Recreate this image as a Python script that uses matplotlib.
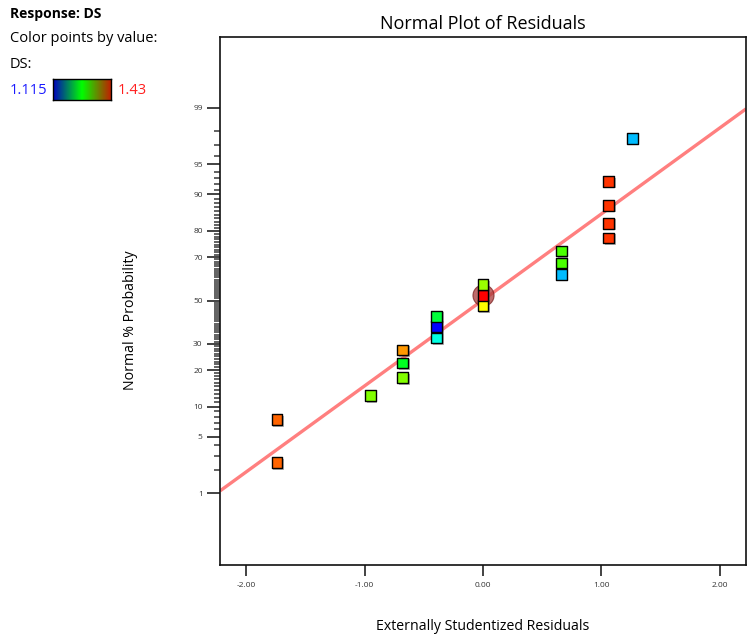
"""
Normal probability plot of externally studentized residuals, points coloured by DS.
"""

from statistics import NormalDist

import matplotlib
matplotlib.use('Agg')
import matplotlib.pyplot as plt
import matplotlib.patheffects as pe
from matplotlib.colors import LinearSegmentedColormap, Normalize
import numpy as np

plt.rcParams['font.family'] = ['Open Sans', 'DejaVu Sans']

# Residuals (sorted) and their normal % probability positions
residuals = [-1.738, -1.738, -0.951, -0.678, -0.678, -0.678, -0.391, -0.391, -0.391,
             0.0, 0.0, 0.0, 0.661, 0.661, 0.661, 1.061, 1.061, 1.061, 1.061, 1.26]
prob_pct = [2.5, 7.5, 12.5, 17.5, 22.5, 27.5, 32.5, 37.5, 42.5, 47.5,
            52.5, 57.5, 62.5, 67.5, 72.5, 77.5, 82.5, 87.5, 92.5, 97.5]
# DS response value of each run, used for point colour
ds_values = [1.399, 1.399, 1.312, 1.312, 1.262, 1.383, 1.203, 1.115, 1.255, 1.351,
             1.430, 1.320, 1.174, 1.295, 1.295, 1.414, 1.414, 1.414, 1.414, 1.174]
ds_min, ds_max = 1.115, 1.43

# Reference line through the residuals
fit_x = [-2.22, 2.22]
fit_pct = [1.07, 98.97]

# Highlighted run
hl_x, hl_pct = 0.0, 52.5

major_pct = [1, 5, 10, 20, 30, 50, 70, 80, 90, 95, 99]
x_ticks = [-2.0, -1.0, 0.0, 1.0, 2.0]

nd = NormalDist()


def to_z(pct):
    return np.array([nd.inv_cdf(p / 100.0) for p in np.atleast_1d(pct)])


W, H = 751, 644
fig = plt.figure(figsize=(W / 100, H / 100), dpi=100)
ax = fig.add_axes([220 / W, 1 - 565 / H, 526 / W, 528 / H])

# points use a hue sweep blue -> cyan -> green -> yellow -> red
point_cmap = LinearSegmentedColormap.from_list(
    'rainbow_ds', ['#0000ff', '#00ffff', '#00ff00', '#ffff00', '#ff0000'])
norm = Normalize(ds_min, ds_max)

ax.plot(fit_x, to_z(fit_pct), color='#ff7f7f', lw=2.4, zorder=2, solid_capstyle='butt')

ax.scatter([hl_x], to_z(hl_pct), s=230, color='#a83a3a', alpha=0.75,
           edgecolor='#7a2020', lw=0.8, zorder=3)

pts = ax.scatter(residuals, to_z(prob_pct), c=ds_values, cmap=point_cmap, norm=norm,
                 marker='s', s=60, edgecolor='black', lw=1.0, zorder=4)
pts.set_path_effects([pe.SimplePatchShadow(offset=(1.2, -1.2), shadow_rgbFace='#555555',
                                           alpha=0.45), pe.Normal()])

ax.set_xlim(-2.22, 2.22)
ax.set_ylim(-3.196, 3.184)

ax.set_xticks(x_ticks)
ax.set_xticklabels([f'{v:.2f}' for v in x_ticks])
ax.set_yticks(to_z(major_pct))
ax.set_yticklabels([str(p) for p in major_pct])

# one short tick per percent between the labelled ones
minor_pct = [p for p in range(1, 100) if p not in major_pct]
ax.hlines(to_z(minor_pct), -0.012, 0, transform=ax.get_yaxis_transform(),
          colors='#555555', lw=1.3, clip_on=False)

ax.tick_params(axis='both', which='major', labelsize=6, labelcolor='#333333',
               color='#222222', width=1.2)
ax.tick_params(axis='x', which='major', length=8, pad=4)
ax.tick_params(axis='y', which='major', length=9.5, pad=3)

for s in ax.spines.values():
    s.set_linewidth(1.2)
    s.set_color('#111111')

ax.set_title('Normal Plot of Residuals', fontsize=13, pad=6)
ax.set_xlabel('Externally Studentized Residuals', fontsize=10.2, labelpad=22)
fig.text(130 / W, 1 - 320 / H, 'Normal % Probability', fontsize=10.2,
         rotation=90, ha='center', va='center')

# colour key in the top-left corner
fig.text(10 / W, 1 - 14 / H, 'Response: DS', fontsize=10, fontweight='bold', va='center')
fig.text(10 / W, 1 - 39 / H, 'Color points by value:', fontsize=10.5, va='center')
fig.text(10 / W, 1 - 64 / H, 'DS:', fontsize=10.5, va='center')
fig.text(10 / W, 1 - 90 / H, f'{ds_min:.3f}', fontsize=10.5, color='#1a1aff', va='center')
fig.text(118 / W, 1 - 90 / H, f'{ds_max:.2f}', fontsize=10.5, color='#ff2020', va='center')

key_cmap = LinearSegmentedColormap.from_list('ds_key', ['#0000c0', '#00ff00', '#c02000'])
cax = fig.add_axes([53 / W, 1 - 100 / H, 58 / W, 21 / H])
cax.imshow(np.linspace(0, 1, 256)[None, :], aspect='auto', cmap=key_cmap)
cax.set_xticks([])
cax.set_yticks([])
for s in cax.spines.values():
    s.set_linewidth(1.0)
    s.set_color('black')

fig.savefig('out.png', dpi=100, facecolor='white')
